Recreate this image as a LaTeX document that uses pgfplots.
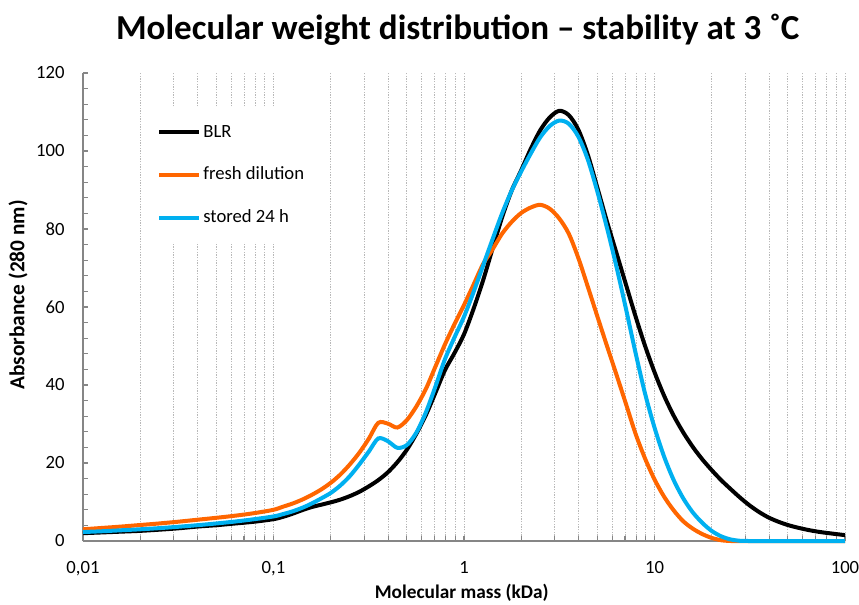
\documentclass[border=0pt]{standalone}
\usepackage{fontspec}
\setmainfont{Carlito}
\usepackage{pgfplots}
\pgfplotsset{compat=1.18}
\definecolor{blrblack}{RGB}{0,0,0}
\definecolor{freshorange}{RGB}{255,102,0}
\definecolor{storedblue}{RGB}{0,176,240}
\definecolor{axisgray}{RGB}{134,134,134}
\definecolor{gridgray}{RGB}{185,185,185}
\begin{document}
\begin{tikzpicture}
\begin{axis}[
  scale only axis,
  width=571.5pt, height=351pt,
  at={(0pt,0pt)}, anchor=south west,
  xmode=log, log basis x=10,
  xmin=0.01, xmax=100,
  ymin=0, ymax=120,
  xtick={0.01,0.1,1,10,100},
  xticklabels={0{,}01,0{,}1,1,10,100},
  minor xtick={0.02,0.03,0.04,0.05,0.06,0.07,0.08,0.09,
               0.2,0.3,0.4,0.5,0.6,0.7,0.8,0.9,
               2,3,4,5,6,7,8,9,
               20,30,40,50,60,70,80,90},
  ytick={0,20,40,60,80,100,120},
  minor y tick num=4,
  axis x line*=bottom, axis y line*=left,
  axis line style={axisgray, line width=1pt},
  tick style={axisgray, line width=0.8pt},
  major tick length=3.75pt, minor tick length=3.75pt,
  tick align=inside,
  xmajorgrids=true, xminorgrids=true,
  ymajorgrids=false, yminorgrids=false,
  major grid style={gridgray, line width=0.6pt, dash pattern=on 1pt off 1pt},
  minor grid style={gridgray, line width=0.6pt, dash pattern=on 1pt off 1pt},
  /pgf/number format/assume math mode=true,
  tick label style={font=\fontsize{14}{16}\selectfont, black},
  xticklabel style={yshift=-11.5pt},
  yticklabel style={xshift=-10.3pt},
  xlabel={Molecular mass (kDa)},
  ylabel={Absorbance (280 nm)},
  xlabel style={font=\bfseries\fontsize{14.5}{16}\selectfont, at={(rel axis cs:0.497,0)}, anchor=center, yshift=-39pt},
  ylabel style={font=\bfseries\fontsize{16}{18}\selectfont, at={(rel axis cs:0,0.526)}, anchor=center, rotate=0, yshift=48.75pt},
  clip=false,
  legend style={at={(0.078,0.925)}, anchor=north west, fill=white, draw=none,
    font=\fontsize{14}{16}\selectfont, row sep=16pt, inner xsep=11pt, inner ysep=10pt,
    nodes={inner sep=1.5pt, text height=10pt, text depth=3pt}},
  legend cell align=left,
  legend image code/.code={\draw[#1] (0pt,0pt) -- (30pt,0pt);},
  every axis plot/.append style={line width=3pt, smooth, tension=0.5, no markers},
]
\addplot[blrblack] coordinates {
(0.01,2.0) (0.01259,2.2) (0.01585,2.4) (0.01995,2.6) (0.02512,2.9) (0.03162,3.25)
(0.03981,3.7) (0.05012,4.05) (0.0631,4.5) (0.07943,4.95) (0.1,5.6)
(0.1122,6.2) (0.1259,7.0) (0.1413,7.9) (0.1585,8.7) (0.1778,9.3) (0.1995,9.9)
(0.2239,10.6) (0.2512,11.5) (0.2818,12.6) (0.3162,14.0) (0.3548,15.6) (0.3981,17.6)
(0.4467,20.2) (0.5012,23.4) (0.5623,27.5) (0.631,32.3) (0.7079,38.0) (0.7943,43.8)
(0.8913,48.2) (1,53.0) (1.122,59.5) (1.259,66.8) (1.413,75.0) (1.585,83.0)
(1.778,89.8) (1.995,95.0) (2.239,100.5) (2.512,105.3) (2.818,108.6) (3.162,110.3)
(3.548,109.2) (3.981,105.5) (4.467,99.0) (5.012,90.6) (5.623,82.0) (6.31,73.9)
(7.079,65.8) (7.943,57.7) (8.913,50.1) (10,43.3) (11.22,37.3) (12.59,32.2)
(14.13,27.9) (15.85,24.2) (17.78,21.0) (19.95,18.2) (22.39,15.6) (25.12,13.3)
(28.18,11.1) (31.62,9.1) (35.48,7.4) (39.81,6.0) (44.67,4.95) (50.12,4.1)
(56.23,3.45) (63.1,2.9) (70.79,2.45) (79.43,2.1) (89.13,1.8) (100,1.5)
};
\addlegendentry{BLR}
\addplot[freshorange] coordinates {
(0.01,3.0) (0.01259,3.35) (0.01585,3.7) (0.01995,4.1) (0.02512,4.5) (0.03162,4.95)
(0.03981,5.45) (0.05012,5.95) (0.0631,6.5) (0.07943,7.15) (0.1,8.0)
(0.1122,8.8) (0.1259,9.6) (0.1413,10.6) (0.1585,11.8) (0.1778,13.2) (0.1995,14.9)
(0.2239,17.0) (0.2512,19.6) (0.2818,22.6) (0.3162,26.2) (0.3548,30.3) (0.3981,30.1)
(0.4467,29.1) (0.5012,31.0) (0.5623,34.5) (0.631,39.0) (0.7079,44.7) (0.7943,50.4)
(0.8913,55.6) (1,60.5) (1.122,65.7) (1.259,71.0) (1.413,74.8) (1.585,78.8)
(1.778,81.8) (1.995,84.1) (2.239,85.5) (2.512,86.2) (2.818,85.2) (3.162,82.7)
(3.548,78.8) (3.981,72.6) (4.467,65.2) (5.012,57.6) (5.623,50.1) (6.31,42.7)
(7.079,35.2) (7.943,27.6) (8.913,21.2) (10,15.8) (11.22,11.4) (12.59,7.9)
(14.13,5.1) (15.85,3.2) (17.78,1.8) (19.95,0.8) (22.39,0.2) (25.12,0)
(28.18,0) (31.62,0) (39.81,0) (50.12,0) (63.1,0) (79.43,0) (100,0)
};
\addlegendentry{fresh dilution}
\addplot[storedblue] coordinates {
(0.01,2.3) (0.01259,2.5) (0.01585,2.75) (0.01995,3.0) (0.02512,3.3) (0.03162,3.65)
(0.03981,4.05) (0.05012,4.5) (0.0631,5.0) (0.07943,5.6) (0.1,6.3)
(0.1122,6.9) (0.1259,7.6) (0.1413,8.5) (0.1585,9.6) (0.1778,10.9) (0.1995,12.3)
(0.2239,14.2) (0.2512,16.6) (0.2818,19.6) (0.3162,22.9) (0.3548,26.3) (0.3981,25.6)
(0.4467,23.9) (0.5012,24.6) (0.5623,27.8) (0.631,33.0) (0.7079,39.6) (0.7943,46.6)
(0.8913,52.2) (1,57.5) (1.122,63.8) (1.259,70.6) (1.413,77.4) (1.585,84.0)
(1.778,89.8) (1.995,94.7) (2.239,99.3) (2.512,103.5) (2.818,106.4) (3.162,107.8)
(3.548,107.0) (3.981,103.7) (4.467,97.8) (5.012,89.6) (5.623,80.4) (6.31,70.4)
(7.079,59.6) (7.943,48.4) (8.913,37.9) (10,29.1) (11.22,21.7) (12.59,15.7)
(14.13,11.0) (15.85,7.4) (17.78,4.7) (19.95,2.6) (22.39,1.2) (25.12,0.4)
(28.18,0.05) (31.62,0) (39.81,0) (50.12,0) (63.1,0) (79.43,0) (100,0)
};
\addlegendentry{stored 24 h}
\end{axis}
\node[font=\bfseries\fontsize{26.3}{30}\selectfont, anchor=base] at (281pt,375.75pt)
  {Molecular weight distribution – stability at 3 ˚C};
\pgfresetboundingbox
\path[use as bounding box] (-62.25pt,-47.25pt) rectangle (582pt,405.75pt);
\end{tikzpicture}
\end{document}
